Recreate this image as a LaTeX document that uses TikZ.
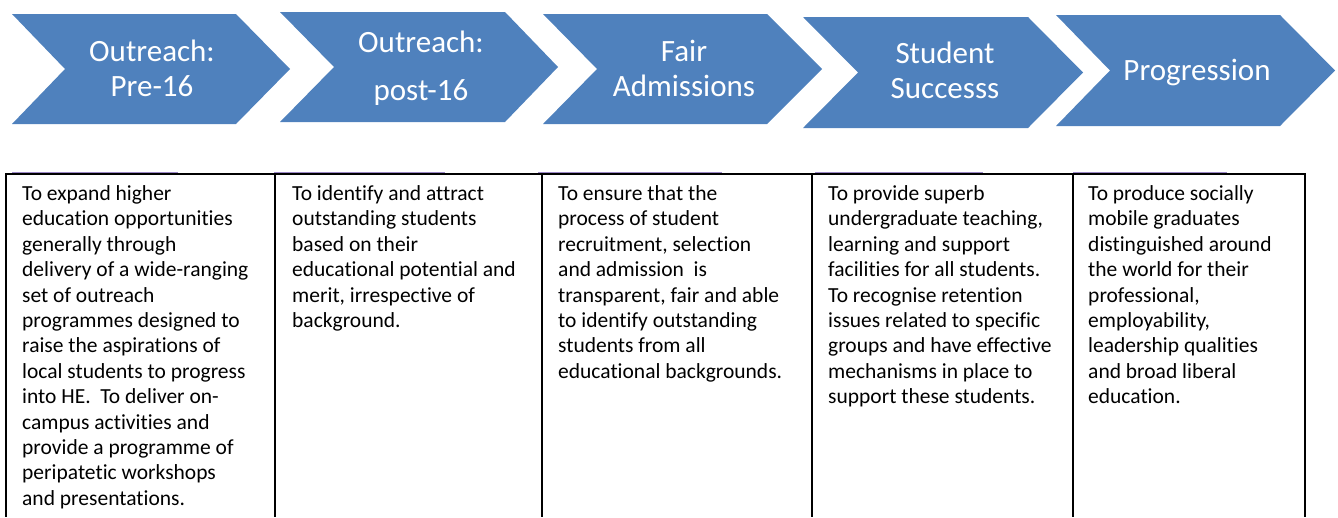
\documentclass[tikz,border=0pt]{standalone}
\usepackage{fontspec}
\setmainfont{Carlito}[Ligatures=CommonOff]
\definecolor{chev}{HTML}{4F81BD}
\definecolor{hdr}{HTML}{9A86C6}
\begin{document}
\begin{tikzpicture}[x=1pt,y=-1pt,
  chevshape/.style={fill=chev,draw=none},
  chevlabel/.style={anchor=north,inner sep=0pt,text=white,align=center,
    font=\fontsize{31}{35}\selectfont},
  celltext/.style={anchor=north west,inner sep=0pt,align=left,text=black,
    font=\fontsize{21.5}{25.4}\selectfont},
  gridline/.style={draw=black,line width=2pt},
  hdrline/.style={draw=hdr,line width=1.4pt}]
\useasboundingbox (0,0) rectangle (1338,517);
% chevrons
\foreach \L/\N/\F/\P/\T/\B in {12/65/236/290/14/124, 280/334/505/558/12/122,
  543/597/767/822/14/124, 803/858/1028/1083/17/128, 1056/1110/1280/1335/15/126}{
  \pgfmathsetmacro{\M}{(\T+\B)/2}
  \path[chevshape] (\L,\T) -- (\F,\T) -- (\P,\M) -- (\F,\B) -- (\L,\B) -- (\N,\M) -- cycle;
}
\node[chevlabel] (c1) at (152,36.5) {\strut Outreach:\\Pre-16};
\node[chevlabel] (c2) at (421,27.5) {\strut Outreach:\\[13pt]post-16};
\node[chevlabel] (c3) at (684,36.5) {\strut Fair\\Admissions};
\node[chevlabel] (c4) at (945,38.5) {\strut Student\\Successs};
\node[chevlabel] (c5) at (1197,55.5) {\strut Progression};
% header tint lines
\foreach \a/\b in {12/178, 274/445, 538/722, 815/983, 1073/1227}{
  \path[hdrline] (\a,172.4) -- (\b,172.4);
}
% grid
\path[gridline] (5,174) -- (1306,174);
\foreach \xx in {6,275,542,812,1073,1305}{
  \path[gridline] (\xx,173) -- (\xx,517);
}
% cell texts
\node[celltext] (t1) at (22,182.5) {\strut To expand higher\\education opportunities\\generally through\\delivery of a wide-ranging\\set of outreach\\programmes designed to\\raise the aspirations of\\local students to progress\\into HE.\ \ To deliver on-\\campus activities and\\provide a programme of\\peripatetic workshops\\and presentations.};
\node[celltext] (t2) at (292,182.5) {\strut To identify and attract\\outstanding students\\based on their\\educational potential and\\merit, irrespective of\\background.};
\node[celltext] (t3) at (558,182.5) {\strut To ensure that the\\process of student\\recruitment, selection\\and admission\ \ is\\transparent, fair and able\\to identify outstanding\\students from all\\educational backgrounds.};
\node[celltext] (t4) at (828,182.5) {\strut To provide superb\\undergraduate teaching,\\learning and support\\facilities for all students.\\To recognise retention\\issues related to specific\\groups and have effective\\mechanisms in place to\\support these students.};
\node[celltext] (t5) at (1088,182.5) {\strut To produce socially\\mobile graduates\\distinguished around\\the world for their\\professional,\\employability,\\leadership qualities\\and broad liberal\\education.};
\end{tikzpicture}
\end{document}
